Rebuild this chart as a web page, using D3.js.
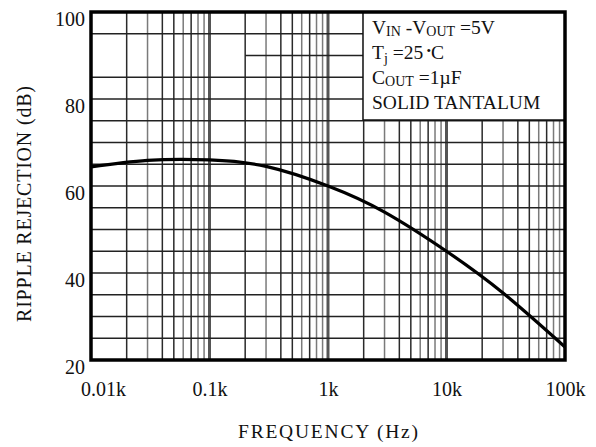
<!DOCTYPE html>
<html>
<head>
<meta charset="utf-8">
<script src="https://cdn.jsdelivr.net/npm/d3@7"></script>
<style>
  body { margin: 0; background: #fff; }
  text { font-family: "Liberation Serif", "Times New Roman", serif; fill: #111; }
</style>
</head>
<body>
<div id="chart"></div>
<script>
(function(){

// frequency in kHz, ripple rejection in dB
var freqs = [0.01, 0.03, 0.1, 0.3, 1, 3, 10, 30, 100];
var rejection = [64.4, 65.9, 66.0, 64.5, 60, 54.0, 45, 35.4, 23];

var xTicks = [0.01, 0.1, 1, 10, 100];
var xTickLabels = ["0.01k", "0.1k", "1k", "10k", "100k"];
var yTicks = [20, 40, 60, 80, 100];
var yGrid = [25, 30, 35, 40, 45, 50, 55, 60, 65, 70, 75, 80, 85, 95];
var legendLines = ["VIN -VOUT =5V", "Tj=25°C", "COUT =1µF", "SOLID TANTALUM"];

var width = 596, height = 447;
var margin = {top: 12, right: 31, bottom: 87, left: 91};

var svg = d3.select("#chart").append("svg")
    .attr("width", width)
    .attr("height", height);

var x = d3.scaleLog()
    .domain([0.01, 100])
    .range([margin.left, width - margin.right]);

var y = d3.scaleLinear()
    .domain([20, 100])
    .range([height - margin.bottom, margin.top]);

// minor vertical grid: 2..9 in every decade
var minor = [];
xTicks.slice(0, -1).forEach(function(d) {
  for (var k = 2; k <= 9; k++) minor.push(d * k);
});

var grid = svg.append("g").attr("class", "grid");

grid.selectAll("line.v").data(minor).enter().append("line")
    .attr("class", "v")
    .attr("x1", function(d) { return x(d); })
    .attr("x2", function(d) { return x(d); })
    .attr("y1", y(100))
    .attr("y2", y(20))
    .attr("stroke", function(d, i) { return [1,0,1,1,0,1,0,0][i % 8] ? "#2a2a2a" : "#7a7a7a"; })
    .attr("stroke-width", 1.5);

grid.selectAll("line.d").data(xTicks.slice(1, -1)).enter().append("line")
    .attr("class", "d")
    .attr("x1", function(d) { return x(d); })
    .attr("x2", function(d) { return x(d); })
    .attr("y1", y(100))
    .attr("y2", y(20))
    .attr("stroke", "#555")
    .attr("stroke-width", 3);

grid.selectAll("line.h").data(yGrid).enter().append("line")
    .attr("class", "h")
    .attr("x1", x(0.01))
    .attr("x2", x(100))
    .attr("y1", function(d) { return y(d); })
    .attr("y2", function(d) { return y(d); })
    .attr("stroke", "#222")
    .attr("stroke-width", 1.7);

// the 90 dB line only starts at 0.2k on the original sheet
grid.append("line")
    .attr("x1", x(0.2)).attr("x2", x(100))
    .attr("y1", y(90)).attr("y2", y(90))
    .attr("stroke", "#222")
    .attr("stroke-width", 1.7);

// legend box covers the grid
var lx = 363, ly = y(100), lw = x(100) - 363, lh = 108;
var leg = svg.append("g");
leg.append("rect")
    .attr("x", lx).attr("y", ly)
    .attr("width", lw).attr("height", lh)
    .attr("fill", "#fff")
    .attr("stroke", "#111")
    .attr("stroke-width", 1.5);

var lt = leg.selectAll("text").data(legendLines).enter().append("text")
    .attr("x", lx + 9)
    .attr("y", function(d, i) { return ly + 22 + i * 25; })
    .style("font-size", "19.5px");

// build legend rows with subscripts
lt.each(function(d, i) {
  var t = d3.select(this);
  if (i === 0) {
    t.append("tspan").text("V");
    t.append("tspan").text("IN").style("font-size", "14px").attr("dy", 2);
    t.append("tspan").text(" -V").attr("dy", -2);
    t.append("tspan").text("OUT").style("font-size", "14px").attr("dy", 2);
    t.append("tspan").text(" =5V").attr("dy", -2);
  } else if (i === 1) {
    t.append("tspan").text("T");
    t.append("tspan").text("j").style("font-size", "14px").attr("dy", 4);
    t.append("tspan").text(" =25").attr("dy", -4);
    t.append("tspan").text(" \u2022").style("font-size", "13px").attr("dy", -4);
    t.append("tspan").text("C").attr("dy", 4);
  } else if (i === 2) {
    t.append("tspan").text("C");
    t.append("tspan").text("OUT").style("font-size", "14px").attr("dy", 2);
    t.append("tspan").text(" =1\u00b5F").attr("dy", -2);
  } else {
    t.text(d);
  }
});

// curve
var line = d3.line()
    .x(function(d, i) { return x(freqs[i]); })
    .y(function(d) { return y(d); })
    .curve(d3.curveNatural);

svg.append("path")
    .datum(rejection)
    .attr("d", line)
    .attr("fill", "none")
    .attr("stroke", "#000")
    .attr("stroke-width", 3.2);

// frame
svg.append("rect")
    .attr("x", x(0.01)).attr("y", y(100))
    .attr("width", x(100) - x(0.01))
    .attr("height", y(20) - y(100))
    .attr("fill", "none")
    .attr("stroke", "#000")
    .attr("stroke-width", 3.5);

// axes
var xAxis = svg.append("g")
    .attr("transform", "translate(0," + y(20) + ")")
    .call(d3.axisBottom(x).tickValues(xTicks).tickSize(0).tickPadding(22)
      .tickFormat(function(d, i) { return xTickLabels[i]; }));
xAxis.select(".domain").remove();
xAxis.selectAll("text")
    .style("font-size", "20px")
    .attr("dx", function(d, i) { return i === 0 ? 12 : 0; });

var yAxis = svg.append("g")
    .attr("transform", "translate(" + x(0.01) + ",0)")
    .call(d3.axisLeft(y).tickValues(yTicks).tickSize(0).tickPadding(6));
yAxis.select(".domain").remove();
yAxis.selectAll("text")
    .style("font-size", "20px")
    .attr("dy", "0.65em");

svg.append("text")
    .attr("x", x(1))
    .attr("y", 438)
    .attr("text-anchor", "middle")
    .style("font-size", "19.5px")
    .attr("textLength", 180)
    .text("FREQUENCY  (Hz)");

svg.append("text")
    .attr("transform", "translate(31,204) rotate(-90)")
    .attr("text-anchor", "middle")
    .style("font-size", "20px")
    .attr("textLength", 236)
    .text("RIPPLE REJECTION (dB)");

})();
</script>
</body>
</html>
